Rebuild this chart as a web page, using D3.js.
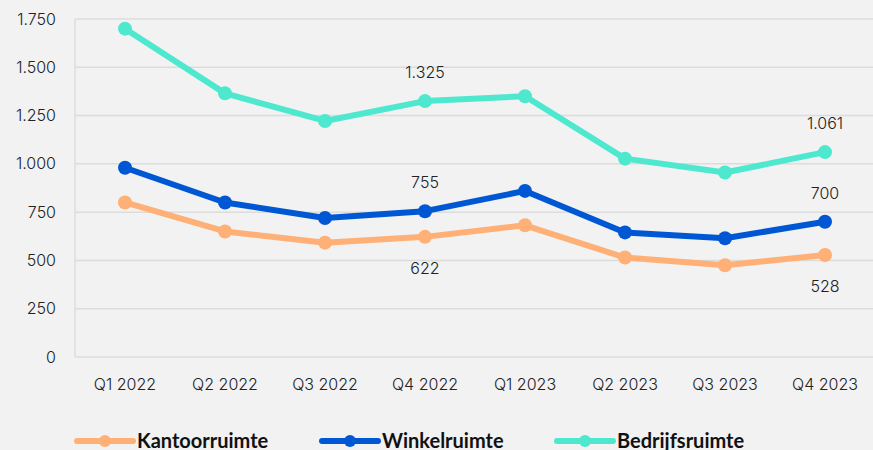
<!DOCTYPE html>
<html>
<head>
<meta charset="utf-8">
<script src="https://cdn.jsdelivr.net/npm/d3@7"></script>
<style>
  body { margin: 0; background: #f2f2f2; }
  svg { display: block; font-family: Inter, "Noto Sans", sans-serif; }
</style>
</head>
<body>
<div id="chart"></div>
<script>
const width = 873;
const height = 450;
const margin = { top: 19, right: -2, bottom: 93, left: 75 };

const quarters = ["Q1 2022", "Q2 2022", "Q3 2022", "Q4 2022", "Q1 2023", "Q2 2023", "Q3 2023", "Q4 2023"];
const kantoor = [800, 650, 592, 622, 682, 515, 475, 528];
const winkel = [980, 800, 720, 755, 860, 645, 615, 700];
const bedrijf = [1700, 1365, 1222, 1325, 1350, 1027, 955, 1061];
const yTicks = [0, 250, 500, 750, 1000, 1250, 1500, 1750];
// labels shown only at Q4 2022 and Q4 2023
const labelQuarters = ["Q4 2022", "Q4 2023"];

const series = [
  { name: "Kantoorruimte", values: kantoor, color: "#ffb077", labelPos: "below" },
  { name: "Winkelruimte", values: winkel, color: "#0057d4", labelPos: "above" },
  { name: "Bedrijfsruimte", values: bedrijf, color: "#4ee8cf", labelPos: "above" }
];

const svg = d3.select("#chart")
  .append("svg")
  .attr("width", width)
  .attr("height", height);

const x = d3.scaleBand()
  .domain(quarters)
  .range([margin.left, width - margin.right]);

const y = d3.scaleLinear()
  .domain([0, 1750])
  .range([height - margin.bottom, margin.top]);

const fmt = v => d3.format(",")(v).replace(/,/g, ".");

// gridlines
svg.append("g")
  .selectAll("line")
  .data(yTicks)
  .join("line")
  .attr("x1", margin.left)
  .attr("x2", width)
  .attr("y1", d => y(d))
  .attr("y2", d => y(d))
  .attr("stroke", "#dcdcdc")
  .attr("stroke-width", 1.5);

svg.append("line")
  .attr("x1", margin.left)
  .attr("x2", margin.left)
  .attr("y1", y(1750))
  .attr("y2", y(0))
  .attr("stroke", "#dcdcdc")
  .attr("stroke-width", 1.5);

// y tick labels
svg.append("g")
  .selectAll("text")
  .data(yTicks)
  .join("text")
  .attr("x", 56)
  .attr("y", d => y(d))
  .attr("dy", "0.35em")
  .attr("text-anchor", "end")
  .attr("font-size", 16)
  .attr("font-weight", 300)
  .attr("fill", "#222")
  .text(fmt);

// x tick labels
svg.append("g")
  .selectAll("text")
  .data(quarters)
  .join("text")
  .attr("x", d => x(d) + x.bandwidth() / 2)
  .attr("y", 390)
  .attr("text-anchor", "middle")
  .attr("font-size", 16)
  .attr("font-weight", 300)
  .attr("fill", "#222")
  .text(d => d);

const cx = q => x(q) + x.bandwidth() / 2;

const line = d3.line()
  .x((d, i) => cx(quarters[i]))
  .y(d => y(d));

series.forEach(s => {
  svg.append("path")
    .datum(s.values)
    .attr("fill", "none")
    .attr("stroke", s.color)
    .attr("stroke-width", 6)
    .attr("stroke-linejoin", "round")
    .attr("d", line);

  svg.append("g")
    .selectAll("circle")
    .data(s.values)
    .join("circle")
    .attr("cx", (d, i) => cx(quarters[i]))
    .attr("cy", d => y(d))
    .attr("r", 7)
    .attr("fill", s.color);

  svg.append("g")
    .selectAll("text")
    .data(s.values.map((v, i) => ({ v, q: quarters[i] })).filter(d => labelQuarters.includes(d.q)))
    .join("text")
    .attr("x", d => cx(d.q))
    .attr("y", d => s.labelPos === "above" ? y(d.v) - 23 : y(d.v) + 37)
    .attr("text-anchor", "middle")
    .attr("font-size", 16)
    .attr("font-weight", 300)
    .attr("fill", "#222")
    .text(d => fmt(d.v));
});

// legend
const legendX = [77, 322, 557];
const legend = svg.append("g")
  .selectAll("g")
  .data(series)
  .join("g")
  .attr("transform", (d, i) => `translate(${legendX[i]}, 441)`);

legend.append("line")
  .attr("x1", 0)
  .attr("x2", 56)
  .attr("stroke", d => d.color)
  .attr("stroke-width", 6)
  .attr("stroke-linecap", "round");

legend.append("circle")
  .attr("cx", 28)
  .attr("r", 6)
  .attr("fill", d => d.color);

legend.append("text")
  .attr("x", 60)
  .attr("y", 7)
  .attr("font-size", 20)
  .attr("font-weight", "bold")
  .attr("font-family", "Lato, sans-serif")
  .attr("fill", "#111")
  .text(d => d.name);
</script>
</body>
</html>
